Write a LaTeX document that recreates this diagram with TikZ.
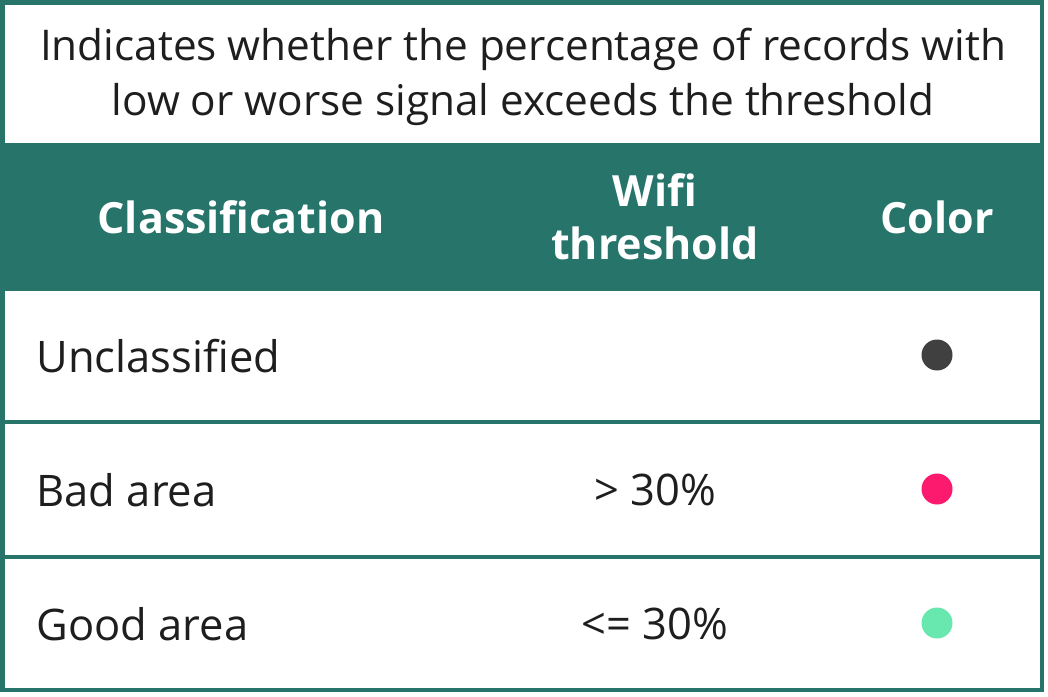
\documentclass[tikz,border=0pt]{standalone}
\usepackage{fontspec}
\setmainfont{Open Sans}
\definecolor{teal}{HTML}{26746A}
\definecolor{txt}{HTML}{1E1E1E}
\definecolor{cgray}{HTML}{404040}
\definecolor{cpink}{HTML}{FC1A6E}
\definecolor{cgreen}{HTML}{68E8AE}
\begin{document}
\begin{tikzpicture}[x=1pt,y=-1pt,
  frame/.style={draw=teal,line width=4.5pt},
  ttl/.style={text=txt,font=\fontsize{42.3}{55}\selectfont,align=center},
  hdr/.style={text=white,font=\fontsize{43}{53}\selectfont\bfseries,align=center},
  cell/.style={text=txt,font=\fontsize{43.5}{45}\selectfont},
  dot/.style={circle,inner sep=0pt,minimum size=31pt}]
\useasboundingbox (0,0) rectangle (1048,696);
\fill[white] (0,0) rectangle (1048,696);
% header band
\fill[teal] (2.5,143) rectangle (1042,291);
% frame and row separators
\draw[frame] (2.5,2.5) rectangle (1042,690);
\draw[frame] (2.5,422) -- (1042,422);
\draw[frame] (2.5,557) -- (1042,557);
% title
\node[ttl] (title) at (523,77) {Indicates whether the percentage of records with\\low or worse signal exceeds the threshold};
% header
\node[hdr] (hclass) at (241,217) {Classification};
\node[hdr] (hwifi) at (655,217) {Wifi\\threshold};
\node[hdr] (hcolor) at (937,217) {Color};
% rows
\node[cell,anchor=west] (r1) at (33,356) {Unclassified};
\node[cell,anchor=west] (r2) at (33,490) {Bad area};
\node[cell,anchor=west] (r3) at (33,624) {Good area};
\node[cell] (t2) at (655,490) {> 30\%};
\node[cell] (t3) at (655,624) {<= 30\%};
\node[dot,fill=cgray] (d1) at (937,355) {};
\node[dot,fill=cpink] (d2) at (937,489) {};
\node[dot,fill=cgreen] (d3) at (937,623) {};
\end{tikzpicture}
\end{document}
